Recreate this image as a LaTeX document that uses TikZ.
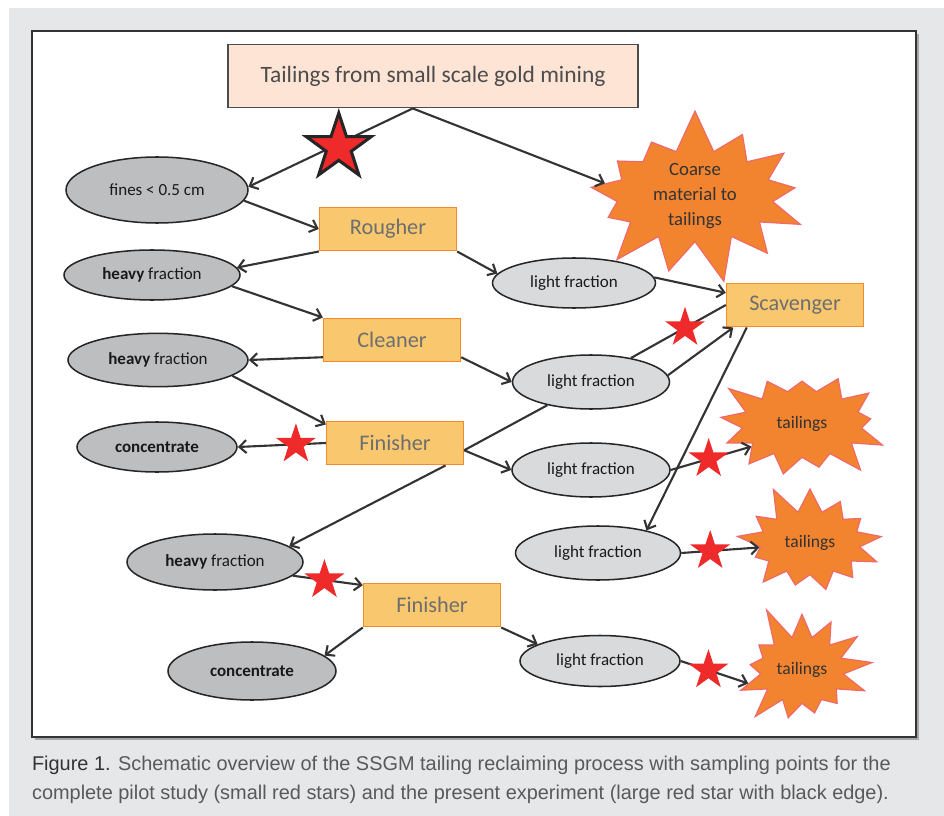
\documentclass[tikz,border=0pt]{standalone}
\usepackage{fontspec}
\setmainfont{Carlito}
\newfontfamily\capfont{Liberation Sans}
\usepackage{tikz}
\usetikzlibrary{shapes.geometric,shapes.symbols,arrows.meta}

\definecolor{panel}{HTML}{E6E7E8}
\definecolor{peach}{HTML}{FDE4D4}
\definecolor{boxfill}{HTML}{F9C86E}
\definecolor{boxedge}{HTML}{F58A2B}
\definecolor{boxtext}{HTML}{6D6E71}
\definecolor{darkell}{HTML}{BCBEC0}
\definecolor{lightell}{HTML}{D9DADC}
\definecolor{burst}{HTML}{F2842F}
\definecolor{burstedge}{HTML}{F0686A}
\definecolor{starred}{HTML}{EE2A2B}
\definecolor{ink}{HTML}{333333}
\definecolor{captext}{HTML}{58595B}

\begin{document}
\begin{tikzpicture}[x=0.03cm, y=-0.03cm, line width=1.8pt,
  proc/.style={rectangle, draw=boxedge, fill=boxfill, text=boxtext, line width=1.4pt,
    minimum width=4.1cm, minimum height=1.3cm, font=\fontsize{19}{22}\selectfont},
  frac/.style={ellipse, draw=black!85, line width=1.3pt, inner sep=0pt, text=black!90,
    font=\fontsize{14.5}{17}\selectfont},
  heavy/.style={frac, fill=darkell},
  light/.style={frac, fill=lightell},
  waste/.style={starburst, starburst points=13, draw=burstedge, fill=burst, line width=1pt,
    text=black!80, align=center, inner sep=0pt, font=\fontsize{15}{20}\selectfont},
  smallstar/.style={star, star points=5, star point ratio=2.6, fill=starred,
    minimum size=1.26cm, inner sep=0pt},
  bigstar/.style={star, star points=5, star point ratio=2.6, fill=starred, draw=black!85,
    line width=2.6pt, minimum size=2.05cm, inner sep=0pt},
  flow/.style={draw=ink, -{Straight Barb[length=6pt,width=11pt]}}]

% panel and frame
\fill[white] (0,0) rectangle (944,816);
\fill[panel] (9,8) rectangle (944,816);
\fill[black!35] (35,34) rectangle (919,740);
\draw[fill=white, line width=0.9pt, draw=black!80] (32,31) rectangle (916,737);

% boxes and ellipses
\draw (433,76) node[rectangle, draw=black!70, fill=peach, text=black!70, line width=1.6pt,
        minimum width=12.3cm, minimum height=1.89cm, font=\fontsize{20}{24}\selectfont](src){Tailings from small scale gold mining}
    (695,196) node[waste, minimum width=7.3cm, minimum height=3.3cm, starburst point height=1.3cm, random starburst=7,
        font=\fontsize{16}{21}\selectfont](cm){Coarse\\material to\\tailings}
    (157,190) node[heavy, minimum width=5.46cm, minimum height=1.98cm](f){fines < 0.5 cm}
    (388,229) node[proc](r){Rougher}
    (152,275) node[heavy, minimum width=5.28cm, minimum height=1.5cm](h1){\textbf{heavy} fraction}
    (574,283) node[light, minimum width=4.89cm, minimum height=1.5cm](l1){light fraction}
    (795,305) node[proc](sc){Scavenger}
    (392,340) node[proc](c){Cleaner}
    (158,360) node[heavy, minimum width=5.4cm, minimum height=1.6cm](h2){\textbf{heavy} fraction}
    (591,382) node[light, minimum width=4.71cm, minimum height=1.62cm](l2){light fraction}
    (395,443) node[proc](fi1){Finisher}
    (157,447) node[heavy, minimum width=4.8cm, minimum height=1.5cm](k1){\textbf{concentrate}}
    (591,470) node[light, minimum width=4.74cm, minimum height=1.62cm](l3){light fraction}
    (802,424) node[waste, minimum width=5.4cm, minimum height=3.8cm, starburst point height=0.9cm, random starburst=3](t1){tailings}
    (598,553) node[light, minimum width=4.95cm, minimum height=1.62cm](l4){light fraction}
    (810,543) node[waste, minimum width=4.8cm, minimum height=3.7cm, starburst point height=0.9cm, random starburst=11](t2){tailings}
    (215,562) node[heavy, minimum width=5.28cm, minimum height=1.68cm](h3){\textbf{heavy} fraction}
    (432,605) node[proc](fi2){Finisher}
    (252,671) node[heavy, minimum width=5.04cm, minimum height=1.74cm](k2){\textbf{concentrate}}
    (600,661) node[light, minimum width=4.8cm, minimum height=1.53cm](l5){light fraction}
    (802,670) node[waste, minimum width=4.7cm, minimum height=4.2cm, starburst point height=1.1cm, random starburst=5](t3){tailings};

% connectors
\draw [flow] (src.238) -- (f.2) node[pos=0.45, yshift=-3pt, bigstar]{};
\draw [flow] (src.238) -- (cm.172);
\draw [flow] (f.353) -- (r.west);
\draw [flow] (r.south west) -- (h1.5);
\draw [flow] (h1.352) -- (c.north west);
\draw [flow] (r.south east) -- (l1.173);
\draw [flow] (l1.4) -- (sc.170);
\draw [flow] (c.194) -- (h2.east);
\draw [flow] (c.346) -- (l2.west);
\draw [flow] (h2.348) -- (fi1.165);
\draw [draw=ink] (fi1.354) -- (l2.208);
\draw [draw=ink] (l2.31) -- (sc.west) node[pos=0.57, smallstar]{};
\draw [flow] (l2.5) -- (sc.200);
\draw [flow] (fi1.west) -- (k1.east) node[pos=0.34, smallstar]{};
\draw [flow] (fi1.354) -- (l3.west);
\draw [flow] (fi1.336) -- (h3.12);
\draw [flow] (sc.205) -- (l4.25);
\draw [flow] (l3.east) -- (t1.204) node[pos=0.47, smallstar]{};
\draw [flow] (l4.east) -- (t2.185) node[pos=0.37, smallstar]{};
\draw [flow] (h3.350) -- (fi2.164) node[pos=0.45, smallstar]{};
\draw [flow] (fi2.south west) -- (k2.12);
\draw [flow] (fi2.south east) -- (l5.165);
\draw [flow] (l5.east) -- (t3.194) node[pos=0.41, smallstar]{};

% caption
\node[anchor=west, align=left, text=captext, inner sep=0pt,
      font=\capfont\fontsize{17}{24.7}\selectfont](cap) at (31,780)
  {{\color{black!80}Figure 1.} Schematic overview of the SSGM tailing reclaiming process with sampling points for the\\
   complete pilot study (small red stars) and the present experiment (large red star with black edge).};
\end{tikzpicture}
\end{document}
